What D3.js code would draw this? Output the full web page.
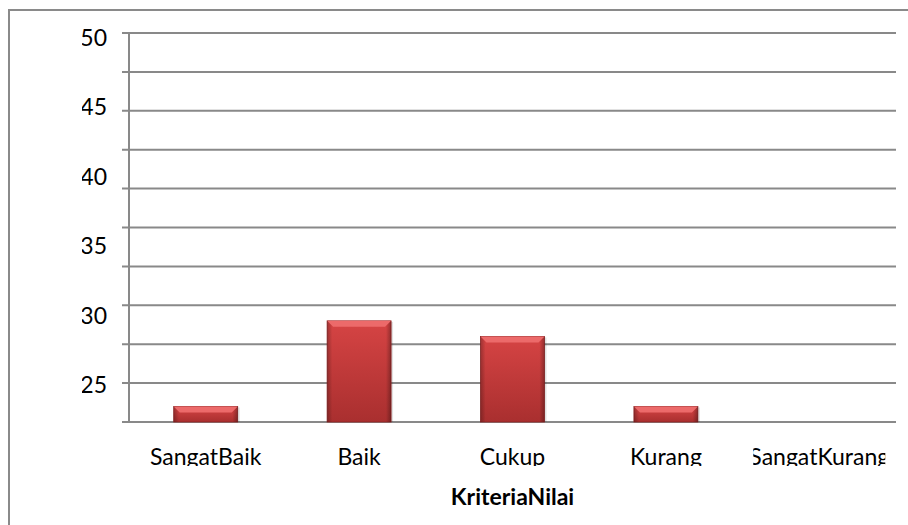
<!DOCTYPE html>
<html lang="id">
  <head>
    <meta charset="utf-8">
    <title>Kriteria Nilai</title>
    <script src="https://d3js.org/d3.v7.min.js"></script>
    <style>
      body { margin: 0; background: #fff; }
      svg text { font-family: Lato, "Open Sans", sans-serif; fill: #000; }
    </style>
  </head>
  <body>
    <div id="chart"></div>
    <script>
      // data
      const categories = ["SangatBaik", "Baik", "Cukup", "Kurang", "SangatKurang"];
      const values = [2, 13, 11, 2, 0];
      const yTickLabels = ["50", "45", "40", "35", "30", "25"];
      const gridValues = d3.range(0, 51, 5);
      const axisTitle = "KriteriaNilai";

      const w = 908, h = 525;
      const margin = {top: 33, right: 12, bottom: 103, left: 129};

      const svg = d3.select("#chart").append("svg")
          .attr("width", w)
          .attr("height", h);

      const defs = svg.append("defs");

      // outer frame (right and bottom edges fall outside the picture)
      svg.append("rect")
        .attr("x", 9).attr("y", 10)
        .attr("width", w + 20).attr("height", h + 20)
        .attr("fill", "none")
        .attr("stroke", "#8a8a8a")
        .attr("stroke-width", 2);

      const x = d3.scaleBand()
        .domain(categories)
        .range([margin.left, w - margin.right])
        .paddingInner(0.583)
        .paddingOuter(0.2915);

      const y = d3.scaleLinear()
        .domain([0, 50])
        .range([h - margin.bottom, margin.top]);

      // gridlines, with small stubs left of the axis
      svg.append("g").selectAll("line")
        .data(gridValues)
        .enter()
        .append("line")
        .attr("x1", margin.left - 7)
        .attr("x2", w - margin.right)
        .attr("y1", d => y(d))
        .attr("y2", d => y(d))
        .attr("stroke", "#898989")
        .attr("stroke-width", 2);

      // vertical axis
      svg.append("line")
        .attr("x1", margin.left).attr("x2", margin.left)
        .attr("y1", y(50)).attr("y2", y(0))
        .attr("stroke", "#898989")
        .attr("stroke-width", 2);

      // bar gradients
      const body = defs.append("linearGradient")
        .attr("id", "barBody").attr("x1", 0).attr("y1", 0).attr("x2", 0).attr("y2", 1);
      body.append("stop").attr("offset", "0%").attr("stop-color", "#d64444");
      body.append("stop").attr("offset", "100%").attr("stop-color", "#a92f2f");

      const side = defs.append("linearGradient")
        .attr("id", "barSide").attr("x1", 0).attr("y1", 0).attr("x2", 1).attr("y2", 0);
      side.append("stop").attr("offset", "0%").attr("stop-color", "#000").attr("stop-opacity", 0.25);
      side.append("stop").attr("offset", "8%").attr("stop-color", "#000").attr("stop-opacity", 0);
      side.append("stop").attr("offset", "92%").attr("stop-color", "#000").attr("stop-opacity", 0);
      side.append("stop").attr("offset", "100%").attr("stop-color", "#000").attr("stop-opacity", 0.3);

      const barData = categories.map((c, i) => ({cat: c, v: values[i]})).filter(d => d.v > 0);

      const bars = svg.append("g").selectAll("g")
        .data(barData)
        .enter()
        .append("g");

      // soft shadow
      bars.append("rect")
        .attr("x", d => x(d.cat) + 2)
        .attr("y", d => y(d.v) + 1)
        .attr("width", x.bandwidth())
        .attr("height", d => y(0) - y(d.v) - 1)
        .attr("fill", "#000")
        .attr("opacity", 0.12);

      bars.append("rect")
        .attr("x", d => x(d.cat))
        .attr("y", d => y(d.v))
        .attr("width", x.bandwidth())
        .attr("height", d => y(0) - y(d.v))
        .attr("fill", "url(#barBody)")
        .attr("stroke", "#8e2525")
        .attr("stroke-width", 0.8);

      bars.append("rect")
        .attr("x", d => x(d.cat))
        .attr("y", d => y(d.v))
        .attr("width", x.bandwidth())
        .attr("height", d => y(0) - y(d.v))
        .attr("fill", "url(#barSide)");

      // top bevel
      bars.append("path")
        .attr("d", function(d) {
          const bx = x(d.cat), bw = x.bandwidth(), by = y(d.v);
          const bev = Math.min(6, (y(0) - by) / 2);
          return "M" + bx + "," + by + "h" + bw + "l-" + bev + "," + bev +
                 "h-" + (bw - 2 * bev) + "z";
        })
        .attr("fill", "#ec6a6a");

      // y labels, clipped on the left like the reference
      defs.append("clipPath").attr("id", "yClip")
        .append("rect").attr("x", 82).attr("y", 0).attr("width", 60).attr("height", h);

      const yl = d3.scalePoint()
        .domain(yTickLabels)
        .range([y(49.4), y(4.8)]);

      svg.append("g").attr("clip-path", "url(#yClip)")
        .selectAll("text")
        .data(yTickLabels)
        .enter()
        .append("text")
        .text(d => d)
        .attr("x", 107)
        .attr("y", d => yl(d))
        .attr("dy", "0.36em")
        .attr("text-anchor", "end")
        .attr("font-size", "23px");

      // category labels, cut at the bottom
      const labY = y(0) + 43;
      categories.forEach(function(c, i) {
        const cx = x(c) + x.bandwidth() / 2;
        defs.append("clipPath").attr("id", "cClip" + i)
          .append("rect")
          .attr("x", cx - 66).attr("y", labY - 30)
          .attr("width", 132).attr("height", 31);
      });

      svg.append("g").selectAll("text")
        .data(categories)
        .enter()
        .append("text")
        .attr("clip-path", (d, i) => "url(#cClip" + i + ")")
        .attr("x", d => x(d) + x.bandwidth() / 2)
        .attr("y", labY)
        .attr("text-anchor", "middle")
        .attr("font-size", "23px")
        .text(d => d);

      // axis title
      svg.append("text")
        .attr("x", (margin.left + w - margin.right) / 2)
        .attr("y", y(0) + 83)
        .attr("text-anchor", "middle")
        .attr("font-size", "23px")
        .attr("font-weight", "bold")
        .text(axisTitle);
    </script>
  </body>
</html>
